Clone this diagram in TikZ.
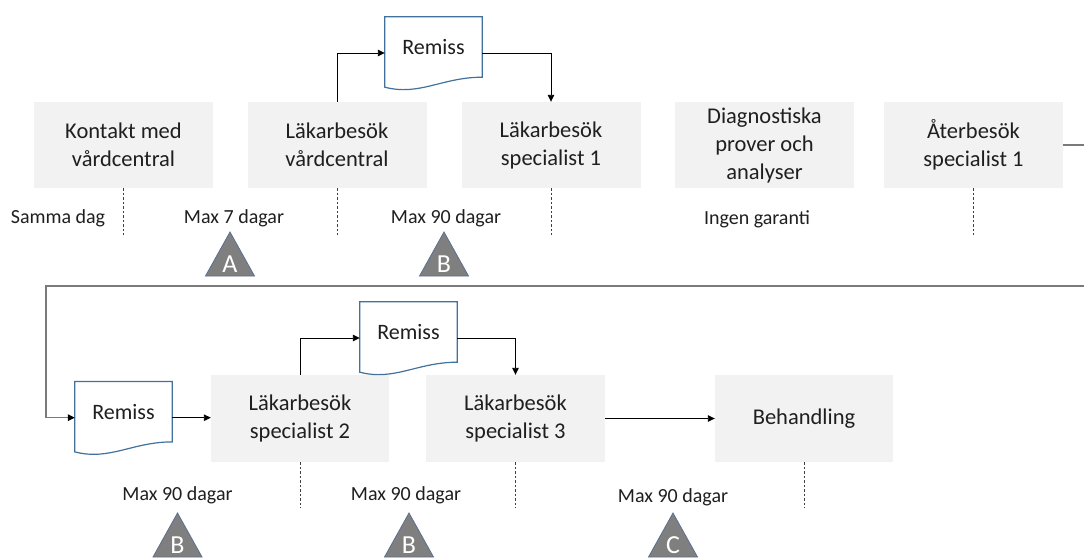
\documentclass[tikz,border=0pt]{standalone}
\usepackage{fontspec}
\setmainfont{Carlito}
\usetikzlibrary{arrows.meta,calc}
\definecolor{boxgray}{HTML}{F2F2F2}
\definecolor{docblue}{HTML}{41719C}
\definecolor{trifill}{HTML}{7F7F7F}
\definecolor{triedge}{HTML}{5B7090}
\definecolor{retgray}{HTML}{7A7A7A}
\definecolor{txt}{HTML}{1F1F1F}
\newcommand\mytri[4]{%
  \draw[tri] (#1,#2) -- ++(24.5,44) -- ++(-49,0) -- cycle;
  \node[trilbl] (#4) at (#1,#2+32.5) {#3};}
\newcommand\mydoc[1]{%
  \draw[docline] (#1.north west) -- (#1.north east) -- (#1.south east)
    .. controls +(-40,0) and +(35,9) .. ($(#1.south west)+(0,10)$) -- cycle;}
\begin{document}
\begin{tikzpicture}[x=1pt,y=-1pt,
  stepbox/.style={fill=boxgray, minimum width=179pt, minimum height=86pt, align=center,
    font=\fontsize{22.5}{28}\selectfont, text=txt, inner sep=0pt},
  docnode/.style={minimum width=97pt, minimum height=60pt, inner sep=0pt,
    font=\fontsize{22}{26}\selectfont, text=txt},
  docline/.style={draw=docblue, line width=1.2pt},
  conn/.style={draw=black, line width=0.9pt, -{Triangle[length=7pt,width=6.5pt]}},
  ret/.style={draw=retgray, line width=1.4pt, -{Triangle[length=7pt,width=6.5pt,color=black]}},
  tick/.style={draw=black!75, dash pattern=on 2.5pt off 2pt, line width=0.7pt},
  lbl/.style={font=\fontsize{20}{24}\selectfont, text=txt, inner sep=0pt},
  tri/.style={fill=trifill, draw=triedge, line width=0.8pt},
  trilbl/.style={font=\fontsize{26}{28}\selectfont, text=white, inner sep=0pt}
]
\clip (0,0) rectangle (1084,557);
\fill[white] (0,0) rectangle (1084,557);

% top row
\node[stepbox] (b1) at (123.5,145) {Kontakt med\\vårdcentral};
\node[stepbox] (b2) at (337,145) {Läkarbesök\\vårdcentral};
\node[stepbox] (b3) at (551,145) {Läkarbesök\\specialist 1};
\node[stepbox] (b4) at (764.5,145) {Diagnostiska\\prover och\\analyser};
\node[stepbox] (b5) at (973.5,145) {Återbesök\\specialist 1};

% bottom row
\node[stepbox, minimum width=178pt, minimum height=87pt] (b6) at (300,418.5) {Läkarbesök\\specialist 2};
\node[stepbox, minimum height=87pt] (b7) at (515.5,418.5) {Läkarbesök\\specialist 3};
\node[stepbox, minimum width=178pt, minimum height=87pt] (b8) at (804,418.5) {Behandling};

% documents
\node[docnode] (r1) at (433.5,47) {Remiss};
\node[docnode] (r2) at (123.5,411.7) {Remiss};
\node[docnode] (r3) at (408.5,332) {Remiss};
\mydoc{r1}
\mydoc{r2}
\mydoc{r3}

% connectors
\draw[conn] (b2.north) |- ([yshift=-6pt]r1.west);
\draw[conn] ([yshift=-6pt]r1.east) -| (b3.north);
\draw[conn] (b6.north) |- ([yshift=-6pt]r3.west);
\draw[conn] ([yshift=-6pt]r3.east) -| (b7.north);
\draw[conn] ([yshift=-6pt]r2.east) -- ([yshift=-6pt]r2.east -| b6.west);
\draw[conn] (b7.east) -- (b8.west);

\coordinate (rc1) at (1100,145);
\coordinate (rc2) at (1100,286);
\coordinate (rc3) at (46,286);
\draw[ret] (b5.east) -- (rc1) -- (rc2) -- (rc3) |- ([yshift=-6pt]r2.west);

% dashed ticks
\foreach \b in {b1,b2,b3,b5}{\draw[tick] (\b.south) -- ++(0,47);}
\foreach \b in {b6,b7,b8}{\draw[tick] (\b.south) -- ++(0,46);}

% labels
\node[lbl] (l1) at (58,218) {Samma dag};
\node[lbl] (l2) at (234,218) {Max 7 dagar};
\node[lbl] (l3) at (446,218) {Max 90 dagar};
\node[lbl] (l4) at (757,219) {Ingen garanti};
\node[lbl] (l5) at (177.5,495) {Max 90 dagar};
\node[lbl] (l6) at (406,495) {Max 90 dagar};
\node[lbl] (l7) at (673,497) {Max 90 dagar};

% triangles
\mytri{230}{232}{A}{ta}
\mytri{444}{232}{B}{tb1}
\mytri{177.5}{513}{B}{tb2}
\mytri{409}{513}{B}{tb3}
\mytri{673}{513}{C}{tc}
\end{tikzpicture}
\end{document}
